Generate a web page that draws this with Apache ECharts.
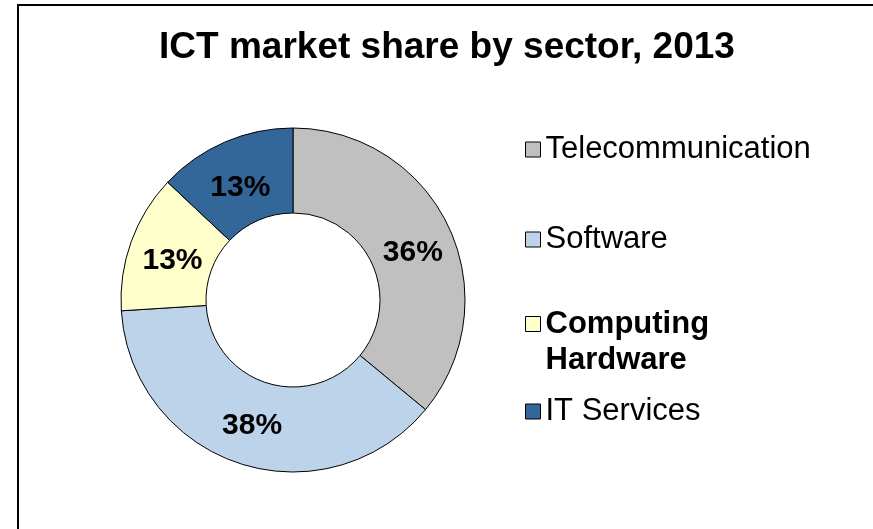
<!DOCTYPE html>
<html>
<head>
<meta charset="utf-8">
<script src="https://cdn.jsdelivr.net/npm/echarts@6/dist/echarts.min.js"></script>
<style>
  html, body { margin: 0; padding: 0; background: #fff; }
  #main { width: 873px; height: 529px; }
</style>
</head>
<body>
<div id="main"></div>
<script>
const sectors = ['Telecommunication', 'Software', 'Computing Hardware', 'IT Services']
const shares = [36, 38, 13, 13]
const colors = ['#c0c0c0', '#bdd3ea', '#ffffcc', '#336699']

const chart = echarts.init(document.getElementById('main'))

// Excel puts some labels a bit lower than the ring middle: push them down with an empty first line
const labelFor = (i) => {
  if (i === 1) return { formatter: '{c}%' }
  if (i === 2) return { formatter: '\n {c}%', lineHeight: 12 }
  return { formatter: '\n{c}%', lineHeight: 18 }
}

const baseLegend = {
  orient: 'vertical',
  left: 525,
  padding: 0,
  icon: 'rect',
  itemWidth: 15,
  itemHeight: 15,
  selectedMode: false,
  itemStyle: { borderColor: '#000', borderWidth: 1 },
  textStyle: {
    fontFamily: 'Liberation Sans, Arial, sans-serif',
    fontSize: 31,
    color: '#000',
  },
}

let option = {
  animation: false,
  title: {
    text: 'ICT market share by sector, 2013',
    left: 447,
    textAlign: 'center',
    top: 29,
    padding: 0,
    textStyle: {
      fontFamily: 'Liberation Sans, Arial, sans-serif',
      fontSize: 37,
      fontWeight: 'bold',
      color: '#000',
    },
  },
  legend: [
    { ...baseLegend, top: 134, data: [sectors[0]] },
    { ...baseLegend, top: 224, data: [sectors[1]] },
    {
      ...baseLegend,
      top: 270,
      data: [sectors[2]],
      formatter: () => '\nComputing\nHardware',
      textStyle: {
        ...baseLegend.textStyle,
        fontWeight: 'bold',
        lineHeight: 36,
      },
    },
    { ...baseLegend, top: 396, data: [sectors[3]] },
  ],
  graphic: [
    {
      type: 'rect',
      shape: { x: 18, y: 5, width: 900, height: 600 },
      style: { fill: 'none', stroke: '#000', lineWidth: 2 },
      silent: true,
    },
  ],
  series: [
    {
      type: 'pie',
      center: [293, 300],
      radius: [87, 172],
      startAngle: 90,
      clockwise: true,
      silent: true,
      avoidLabelOverlap: false,
      itemStyle: { borderColor: '#000', borderWidth: 1 },
      label: {
        show: true,
        position: 'inside',
        fontFamily: 'Liberation Sans, Arial, sans-serif',
        fontSize: 30,
        fontWeight: 'bold',
        color: '#000',
      },
      labelLine: { show: false },
      data: sectors.map((name, i) => ({
        name: name,
        value: shares[i],
        itemStyle: { color: colors[i] },
        label: labelFor(i),
      })),
    },
  ],
}

chart.setOption(option)
</script>
</body>
</html>
